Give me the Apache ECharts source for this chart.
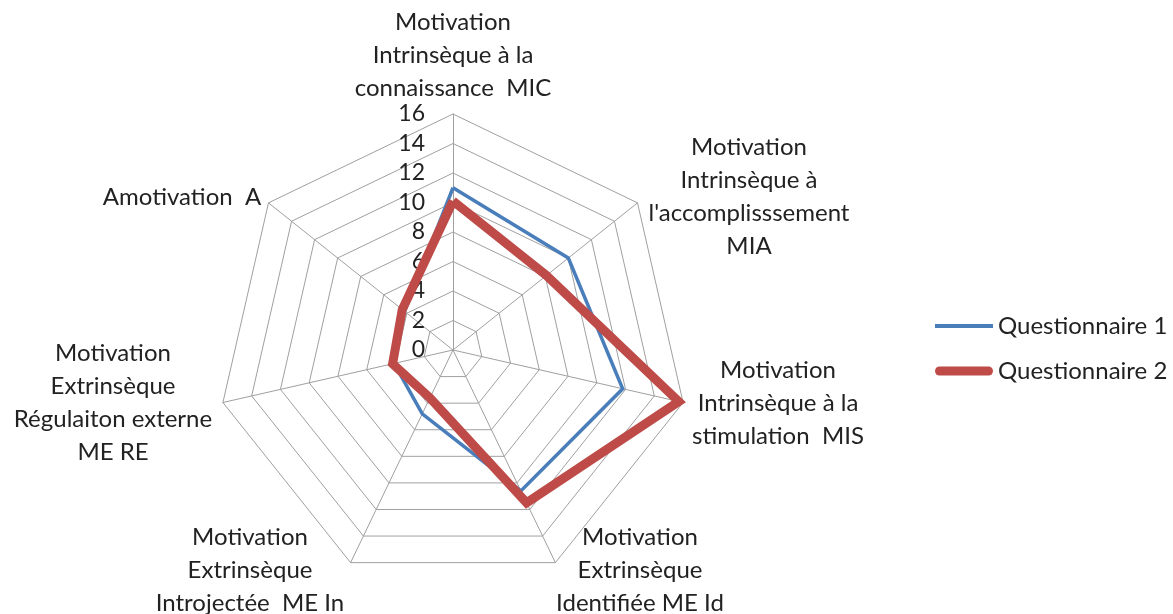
<!DOCTYPE html>
<html>
<head>
<meta charset="utf-8">
<script src="https://cdn.jsdelivr.net/npm/echarts@6/dist/echarts.min.js"></script>
<style>
  html, body { margin: 0; padding: 0; background: #fff; }
  #chart { width: 1173px; height: 614px; }
</style>
</head>
<body>
<div id="chart"></div>
<script>
// axes in the order echarts draws them: top first, then counter-clockwise
const axisNames = [
  'Motivation\nIntrinsèque à la\nconnaissance  MIC',
  'Amotivation  A',
  'Motivation\nExtrinsèque\nRégulaiton externe\nME RE',
  'Motivation\nExtrinsèque\nIntrojectée  ME In',
  'Motivation\nExtrinsèque\nIdentifiée ME Id',
  'Motivation\nIntrinsèque à la\nstimulation  MIS',
  'Motivation\nIntrinsèque à\nl\'accomplisssement\nMIA'
]
const q1 = [11, 4.2, 4.1, 4.8, 10.6, 11.8, 10]
const q2 = [10.1, 4.4, 4.2, 3.6, 11.5, 15.7, 8.1]
const seriesNames = ['Questionnaire 1', 'Questionnaire 2']
const axisMax = 16
const axisStep = 2

// where each axis title sits (block centre), same order as axisNames
const namePos = [[453, 55], [182, 197], [113, 403], [250, 570], [640, 570], [778, 403], [749, 197]]

const font = 'Lato, "Open Sans", sans-serif'
const chart = echarts.init(document.getElementById('chart'))

const indicator = axisNames.map((n, i) => {
  const ind = { name: n, max: axisMax, min: 0 }
  if (i === 0) ind.axisLabel = { show: true }
  return ind
})

// legend icons: thin line / thick rounded line inside a 58x14 box
const iconThin = 'path://M0,0M58,14M0,5h58v4h-58z'
const iconThick = 'path://M0,0M58,14M4.5,2.5h49a4.5,4.5 0 0 1 0,9h-49a4.5,4.5 0 0 1 0,-9z'

const option = {
  backgroundColor: '#fff',
  animation: false,
  legend: {
    orient: 'vertical',
    left: 930,
    top: 309,
    itemWidth: 58,
    itemHeight: 14,
    itemGap: 21,
    textStyle: { fontSize: 24, fontFamily: font, color: '#222' },
    data: [
      { name: seriesNames[0], icon: iconThin },
      { name: seriesNames[1], icon: iconThick }
    ]
  },
  radar: {
    center: [453, 350],
    radius: 236,
    startAngle: 90,
    shape: 'polygon',
    splitNumber: axisMax / axisStep,
    indicator: indicator,
    axisName: { show: false },
    axisLine: { lineStyle: { color: '#a0a0a0', width: 1 } },
    splitLine: { lineStyle: { color: '#a0a0a0', width: 1 } },
    splitArea: { show: false },
    axisLabel: {
      show: false,
      fontSize: 23,
      fontFamily: font,
      color: '#222',
      margin: 28
    }
  },
  series: [{
    type: 'radar',
    symbol: 'none',
    data: [
      {
        name: seriesNames[0],
        value: q1,
        lineStyle: { color: '#4a7ebb', width: 3.5, join: 'miter' },
        itemStyle: { color: '#4a7ebb' }
      },
      {
        name: seriesNames[1],
        value: q2,
        lineStyle: { color: '#be4b48', width: 9, join: 'miter' },
        itemStyle: { color: '#be4b48' }
      }
    ]
  }],
  graphic: axisNames.map((n, i) => ({
    type: 'text',
    x: namePos[i][0],
    y: namePos[i][1],
    style: {
      text: n,
      align: 'center',
      verticalAlign: 'middle',
      fontSize: 24,
      lineHeight: 33,
      fontFamily: font,
      fill: '#222'
    }
  }))
}

chart.setOption(option)
</script>
</body>
</html>
